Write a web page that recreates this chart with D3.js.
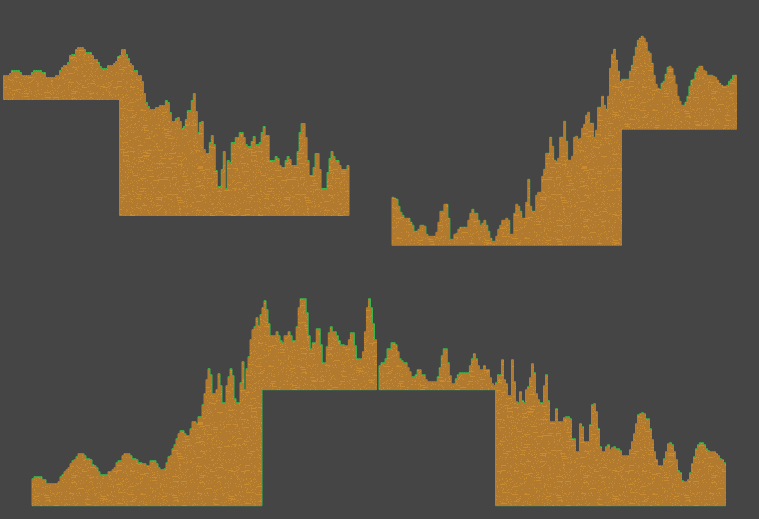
<!DOCTYPE html>
<html><head><meta charset="utf-8">
<script src="https://cdnjs.cloudflare.com/ajax/libs/d3/7.8.5/d3.min.js"></script>
<style>html,body{margin:0;padding:0;background:#454545;overflow:hidden}svg{display:block}</style>
</head><body><svg id="c" width="759" height="519"></svg>
<script>
// Heights of each stepped run above its own floor, left to right.
const topLeftHigh=[24,24,24,26,29,29,29,29,27,24,24,24,24,24,27,29,29,29,29,27,27,22,22,22,22,22,24,24,29,32,34,34,37,44,45,45,50,52,52,52,50,47,47,47,44,40,40,37,33,31,31,31,34,34,34,36,38,43];
const topLeftLow=[160,166,166,161,157,152,150,145,145,140,140,134,122,113,109,106,106,106,108,108,110,110,110,115,113,103,94,94,97,98,94,87,89,96,105,105,115,122,104,83,93,94,66,62,62,73,80,71,45,29,29,46,64,27,55,53,73,73,78,78,83,83,78,71,69,69,74,79,71,71,73,83,89,80,80,55,55,55,59,57,50,48,48,55,59,56,50,50,50,64,83,92,92,78,55,40,40,48,62,62,46,27,27,27,43,57,64,59,55,55,50,46,46,46,50];
const topRightLow=[48,47,46,39,33,30,27,27,27,23,20,14,14,16,20,20,19,11,9,9,9,9,13,23,34,34,41,41,27,6,6,11,12,16,18,18,18,18,25,32,36,32,32,25,20,22,25,20,14,7,4,4,9,16,20,25,25,27,25,11,11,32,41,39,34,27,27,43,66,39,34,34,50,53,53,69,76,92,92,108,99,85,84,87,108,108,124,104,85,85,89,108,109,106,107,117,121,130,133,122,122,108,115,138,138,149,140,136,149,177,191,196,185,174,164];
const topRightHigh=[50,50,50,50,58,64,73,82,89,91,93,91,87,78,76,66,54,45,41,40,46,48,55,62,63,61,54,45,33,28,24,24,27,33,43,49,50,57,61,63,63,59,58,54,54,54,53,52,49,46,44,43,43,44,48,50,54,54];
const bottomLeft=[27,29,29,29,29,26,26,22,22,22,22,22,22,24,29,31,34,36,38,42,45,46,49,52,52,52,50,47,47,46,41,40,38,34,31,31,31,31,34,34,36,38,43,45,45,50,52,52,52,50,47,47,46,43,43,42,42,40,40,45,45,45,42,38,36,36,37,43,49,50,57,61,67,72,75,75,72,70,70,77,84,84,82,89,89,101,112,126,137,131,112,112,116,132,120,103,103,120,129,137,130,107,103,103,123,144,116,137,149,166,176,179,188,180,191];
const bottomMidA=[82,89,80,66,54,54,54,58,54,49,47,54,54,58,54,49,49,63,82,91,91,91,77,54,41,47,47,61,61,45,27,27,43,57,63,58,58,54,49,45,45,44,44,50,57,57,44,31,31,31,38,58,82,91,82,66,50];
const bottomMidB=[24,27,27,31,41,41,47,47,45,38,31,29,27,27,22,18,13,13,15,20,20,15,15,10,8,8,8,8,8,13,22,34,41,41,27,14,6,6,11,15,17,17,17,17,17,24,31,36,31,24,20,20,24,20,20,12,6,4];
const bottomRight=[123,131,131,146,126,122,110,110,146,124,104,103,114,105,103,116,119,128,142,133,112,106,103,103,120,131,105,84,84,84,97,84,84,84,88,89,89,87,67,67,54,54,82,79,64,64,64,81,101,102,94,77,59,54,54,59,61,56,58,59,57,57,55,50,50,50,50,56,64,72,82,91,92,93,92,87,87,77,66,54,46,40,40,40,47,54,62,63,61,54,46,35,33,25,24,24,26,33,42,49,57,61,63,63,61,57,55,54,54,54,52,50,47,46,43];

// Floors and horizontal ranges of every run, in chart units.
const runs=[
 {name:"top-left-high", values:topLeftHigh, floor:419.5, from:3.5, to:119.5},
 {name:"top-left-low",  values:topLeftLow,  floor:303.5, from:119.5, to:349},
 {name:"top-right-low", values:topRightLow, floor:273.7, from:392,to:621.5},
 {name:"top-right-high",values:topRightHigh,floor:389.7, from:621.5,to:736.5},
 {name:"bottom-left",   values:bottomLeft,  floor:13.3,  from:32,to:262},
 {name:"bottom-mid-a",  values:bottomMidA,  floor:129.3, from:262,to:376.5},
 {name:"bottom-mid-b",  values:bottomMidB,  floor:129.3, from:379,to:495.5},
 {name:"bottom-right",  values:bottomRight, floor:13.3,  from:495.5, to:725.5}
];

const W=759,H=519;
const svg=d3.select("#c");
const y=d3.scaleLinear().domain([0,H]).range([H,0]);

// speckled fill tile
const TILE=128;
const defs=svg.append("defs");
const pat=defs.append("pattern").attr("id","grain").attr("patternUnits","userSpaceOnUse")
  .attr("width",TILE).attr("height",TILE);
pat.append("rect").attr("width",TILE).attr("height",TILE).attr("fill","#b27a2f");
function h(a,b){const s=Math.sin(a*127.1+b*311.7)*43758.5453;return s-Math.floor(s);}
const specks=[];
for(let j=0;j<TILE;j++)for(let i=0;i<TILE;i++){
  const r=h(i+1,j+1);
  if(r<0.09)specks.push([i,j,1]);
  else if(r<0.10)specks.push([i,j,5]);
}
pat.selectAll("rect.s").data(specks).join("rect").attr("class","s")
  .attr("x",d=>d[0]).attr("y",d=>d[1]).attr("width",d=>d[2]).attr("height",1)
  .attr("fill","#c88b2f").attr("shape-rendering","crispEdges");

const shapes=runs.map(run=>{
  const x=d3.scaleLinear().domain([0,run.values.length]).range([run.from,run.to]);
  const pts=run.values.concat([run.values[run.values.length-1]]);
  return d3.area().curve(d3.curveStepAfter)
    .x((d,i)=>x(i)).y0(y(run.floor)).y1(d=>y(run.floor+d))(pts);
});
// green rim first, fill over it so only the outside edge stays visible
svg.append("g").selectAll("path").data(shapes).join("path").attr("d",d=>d)
  .attr("fill","none").attr("stroke","#3bb84c").attr("stroke-width",1);
svg.append("g").selectAll("path").data(shapes).join("path").attr("d",d=>d)
  .attr("fill","url(#grain)").attr("shape-rendering","crispEdges");
</script></body></html>
